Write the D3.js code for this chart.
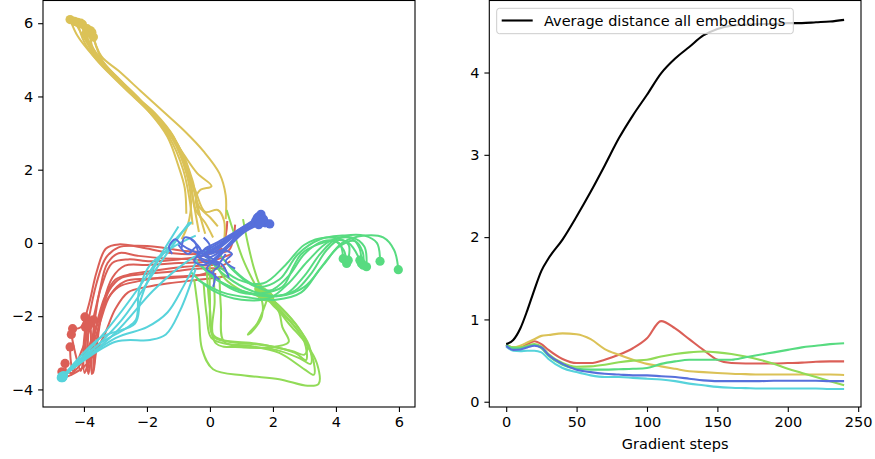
<!DOCTYPE html>
<meta charset="utf-8">
<head>
	<title>Embedding trajectories</title>
</head>

<style>
	body { margin: 0; background: #fff; }
	text { font-family: "DejaVu Sans", sans-serif; }
</style>

<body>
	<svg width="875" height="459"></svg>

	<script src="https://cdnjs.cloudflare.com/ajax/libs/d3/7.8.5/d3.min.js"></script>
	<script>

		// ---- left panel: 2d trajectories of embeddings, one array per cluster (start -> end)
		var redPaths = [
			[[0.55,0.6],[0.4,0.0],[-0.3,-0.28],[-1.2,-0.28],[-2.2,-0.12],[-2.9,-0.04],[-3.3,-0.15],[-3.6,-0.8],[-3.85,-1.7],[-4.1,-2.3],[-4.36,-2.34]],
			[[0.3,-0.55],[-0.5,-0.45],[-1.5,-0.42],[-2.3,-0.35],[-2.9,-0.28],[-3.25,-0.55],[-3.5,-1.3],[-3.7,-2.4],[-3.8,-3.3],[-3.86,-3.58],[-3.92,-3.2],[-3.95,-2.5],[-3.97,-2.02]],
			[[0.7,-0.3],[0.0,-0.5],[-1.0,-0.55],[-2.0,-0.6],[-2.7,-0.62],[-3.1,-0.95],[-3.4,-1.7],[-3.6,-2.7],[-3.7,-3.45],[-3.75,-3.58],[-3.78,-3.0],[-3.78,-2.4],[-3.81,-2.15]],
			[[0.5,-0.7],[-0.3,-0.7],[-1.2,-0.78],[-2.1,-0.85],[-2.8,-0.95],[-3.2,-1.3],[-3.45,-2.0],[-3.62,-3.0],[-3.7,-3.55],[-3.7,-3.0],[-3.68,-2.5],[-3.7,-2.1]],
			[[0.2,-0.85],[-0.7,-0.9],[-1.6,-0.95],[-2.3,-1.05],[-2.9,-1.2],[-3.3,-1.6],[-3.6,-2.3],[-3.85,-3.2],[-3.98,-3.55],[-4.02,-3.0],[-3.98,-2.5],[-3.95,-2.3]],
			[[0.4,-0.15],[-0.2,-0.35],[-1.0,-0.45],[-1.9,-0.5],[-2.6,-0.45],[-3.1,-0.55],[-3.45,-1.2],[-3.75,-2.2],[-4.1,-3.0],[-4.35,-3.5],[-4.42,-3.2],[-4.44,-2.84]],
			[[0.1,-0.6],[-0.8,-0.65],[-1.7,-0.75],[-2.5,-0.85],[-3.0,-1.0],[-3.35,-1.5],[-3.7,-2.5],[-4.1,-3.3],[-4.4,-3.55],[-4.55,-3.5],[-4.6,-3.29]],
			[[0.55,-0.9],[-0.3,-1.0],[-1.3,-1.1],[-2.0,-1.2],[-2.6,-1.35],[-3.0,-1.8],[-3.4,-2.6],[-3.9,-3.3],[-4.4,-3.6],[-4.6,-3.65],[-4.7,-3.52]],
			[[0.8,0.5],[0.6,-0.2],[0.0,-0.25],[-0.8,-0.22],[-1.6,-0.12],[-2.3,-0.08],[-2.9,-0.12],[-3.3,-0.4],[-3.6,-1.1],[-3.85,-2.1],[-4.0,-3.0],[-4.1,-3.5],[-4.25,-3.1],[-4.4,-2.5]],
			[[0.65,-0.5],[-0.2,-0.85],[-1.1,-0.95],[-2.0,-0.98],[-2.7,-1.05],[-3.15,-1.4],[-3.5,-2.2],[-3.8,-3.1],[-3.9,-3.5],[-3.88,-2.8],[-3.85,-2.25]]
		];

		var yellowPaths = [
			[[-0.75,0.8],[-0.8,1.5],[-1.0,2.1],[-1.35,2.9],[-1.95,3.6],[-2.6,4.15],[-3.2,4.65],[-3.75,5.15],[-4.2,5.65],[-4.44,6.1]],
			[[-0.55,0.5],[-0.65,1.2],[-0.85,2.0],[-1.3,2.9],[-1.9,3.55],[-2.5,4.05],[-3.1,4.55],[-3.6,5.0],[-4.0,5.5],[-4.2,6.02]],
			[[-0.35,0.3],[-0.5,1.0],[-0.7,1.9],[-1.25,3.0],[-1.85,3.6],[-2.45,4.05],[-3.0,4.5],[-3.5,4.95],[-3.9,5.5],[-4.05,5.97]],
			[[0.1,0.15],[-0.15,0.55],[-0.45,0.9],[-0.65,1.8],[-1.15,2.9],[-1.75,3.55],[-2.35,4.0],[-2.95,4.5],[-3.45,4.95],[-3.75,5.4],[-3.8,5.8]],
			[[0.5,0.65],[0.5,1.3],[0.3,1.9],[-0.2,2.5],[-0.8,3.05],[-1.5,3.6],[-2.2,4.15],[-2.9,4.7],[-3.45,5.1],[-3.75,5.75]],
			[[-0.3,0.7],[-0.45,1.2],[-0.3,1.45],[0.05,1.55],[-0.4,1.9],[-0.9,2.5],[-1.5,3.2],[-2.2,3.9],[-2.85,4.45],[-3.4,4.95],[-3.7,5.62]],
			[[0.45,0.05],[0.45,0.6],[0.25,0.9],[-0.15,0.85],[-0.45,1.4],[-0.75,2.1],[-1.2,2.95],[-1.8,3.55],[-2.4,4.05],[-3.0,4.55],[-3.5,5.0],[-3.9,5.55],[-4.1,6.0]],
			[[-0.9,0.1],[-0.7,0.5],[-0.6,1.1],[-0.75,1.9],[-1.2,2.85],[-1.8,3.5],[-2.4,4.0],[-3.0,4.5],[-3.55,5.0],[-4.0,5.6],[-4.3,6.05]],
			[[-0.15,0.25],[-0.3,0.7],[-0.5,1.4],[-0.8,2.3],[-1.3,3.05],[-1.9,3.6],[-2.5,4.1],[-3.05,4.55],[-3.55,5.0],[-3.85,5.4],[-3.9,5.85]],
			[[0.25,0.45],[0.0,0.7],[-0.35,1.0],[-0.55,1.7],[-0.9,2.5],[-1.45,3.2],[-2.1,3.8],[-2.75,4.35],[-3.3,4.85],[-3.7,5.3],[-3.95,5.7]]
		];

		var greenPaths = [
			[[-0.5,-0.45],[0.2,-1.0],[0.95,-1.35],[1.6,-1.38],[2.3,-1.2],[2.65,-0.65],[2.9,-0.3],[3.5,-0.02],[3.95,0.05],[4.25,-0.2],[4.34,-0.56]],
			[[-0.3,-0.6],[0.4,-1.1],[1.2,-1.35],[2.0,-1.45],[2.7,-1.3],[3.2,-0.85],[3.7,-0.2],[4.1,0.08],[4.4,-0.05],[4.39,-0.47]],
			[[0.0,-0.9],[0.8,-1.25],[1.7,-1.45],[2.4,-1.4],[3.0,-0.9],[3.5,-0.3],[4.0,0.1],[4.5,0.12],[4.75,-0.15],[4.81,-0.56]],
			[[-0.6,-0.8],[0.1,-1.3],[1.0,-1.55],[1.9,-1.5],[2.5,-1.1],[3.1,-0.5],[3.8,0.05],[4.5,0.15],[4.9,-0.1],[4.97,-0.65]],
			[[0.3,-0.3],[0.8,-0.8],[1.5,-1.2],[2.2,-1.0],[2.8,-0.3],[3.5,0.1],[4.2,0.2],[4.9,0.2],[5.3,0.0],[5.4,-0.5]],
			[[-0.2,-0.3],[0.5,-0.9],[1.3,-1.3],[2.2,-1.45],[3.0,-1.2],[3.6,-0.6],[4.2,0.0],[4.9,0.2],[5.5,0.15],[5.85,-0.2],[5.98,-0.73]],
			[[0.6,-0.6],[1.2,-1.05],[1.9,-1.3],[2.5,-0.9],[3.0,-0.3],[3.6,0.05],[4.1,0.0],[4.23,-0.43]],
			[[-0.4,-1.0],[0.4,-1.35],[1.3,-1.5],[2.1,-1.55],[2.9,-1.35],[3.5,-0.7],[4.1,-0.1],[4.6,0.05],[4.85,-0.25],[4.87,-0.61]],
			[[0.1,-0.5],[0.9,-1.0],[1.7,-1.1],[2.4,-0.6],[3.0,-0.05],[3.7,0.15],[4.4,0.0],[4.76,-0.47]]
		];

		var limePaths = [
			[[-0.5,-1.0],[-0.35,-2.0],[-0.25,-2.9],[0.1,-3.45],[1.1,-3.62],[2.2,-3.72],[3.1,-3.9],[3.45,-3.85],[3.4,-3.3],[3.05,-2.75],[2.5,-2.2],[2.0,-1.65],[1.6,-1.3]],
			[[0.1,-0.7],[0.15,-1.6],[0.1,-2.5],[0.4,-2.65],[1.5,-2.75],[2.6,-2.95],[3.0,-3.05],[3.1,-2.8],[2.8,-2.3],[2.3,-1.8],[1.7,-1.35]],
			[[-0.1,-0.8],[0.0,-1.8],[0.2,-2.75],[1.0,-2.85],[2.0,-2.9],[2.85,-3.15],[3.2,-3.3],[3.15,-2.8],[2.7,-2.2],[2.1,-1.65],[1.8,-1.45]],
			[[0.3,-0.9],[0.35,-1.8],[0.45,-2.7],[1.2,-2.8],[2.2,-3.0],[3.0,-3.45],[3.3,-3.6],[3.25,-3.1],[2.8,-2.4],[2.2,-1.8],[1.7,-1.4]],
			[[0.53,0.9],[0.75,0.3],[1.05,-0.45],[1.35,-1.0],[1.6,-1.38]],
			[[1.05,0.65],[1.2,0.0],[1.4,-0.7],[1.6,-1.2],[1.75,-1.47]],
			[[0.2,-0.6],[0.5,-1.0],[1.0,-1.3],[1.6,-1.5],[1.65,-2.0],[1.3,-2.45],[1.2,-2.5],[1.5,-2.2],[1.75,-1.7],[1.85,-1.45]],
			[[-0.2,-1.1],[-0.1,-2.0],[0.05,-2.6],[0.8,-2.8],[1.9,-2.85],[2.5,-2.7],[2.3,-2.3],[2.2,-1.9],[1.9,-1.5]],
			[[0.0,-0.4],[0.0,-1.5],[0.1,-2.55],[0.6,-2.7],[1.8,-2.8],[2.7,-3.0],[3.05,-3.2],[3.0,-2.7],[2.6,-2.2],[2.0,-1.7],[1.55,-1.25]]
		];

		var cyanPaths = [
			[[-1.0,0.45],[-2.2,-1.15],[-3.3,-2.4],[-4.66,-3.65]],
			[[-0.65,0.57],[-1.7,-0.7],[-2.8,-2.1],[-4.68,-3.68]],
			[[-0.45,0.2],[-1.15,-0.1],[-1.9,-0.6],[-2.25,-1.3],[-2.35,-2.1],[-2.7,-2.35],[-3.5,-2.75],[-4.7,-3.65]],
			[[-0.4,-0.45],[-0.85,-1.2],[-1.35,-1.9],[-2.0,-2.3],[-3.0,-2.6],[-4.7,-3.66]],
			[[-0.45,-0.7],[-0.95,-1.85],[-1.4,-2.5],[-1.9,-2.65],[-3.0,-2.7],[-4.72,-3.68]],
			[[0.1,-0.1],[-0.8,-0.55],[-1.8,-1.3],[-3.0,-2.45],[-4.65,-3.62]],
			[[-0.58,0.57],[-1.69,-0.55],[-2.2,-1.55],[-2.38,-2.2],[-3.5,-2.6],[-4.68,-3.66]]
		];

		var bluePaths = [
			[[-1.2,-0.3],[-1.3,-0.1],[-1.1,0.1],[-0.9,-0.05],[-0.6,-0.2],[-0.2,-0.3],[0.3,-0.1],[0.9,0.3],[1.55,0.72]],
			[[0.3,-1.0],[0.1,-0.8],[0.3,-0.6],[0.0,-0.5],[-0.3,-0.4],[0.2,-0.2],[0.8,0.2],[1.6,0.62]],
			[[-0.6,0.1],[-0.3,-0.2],[-0.5,-0.5],[-0.2,-0.6],[0.2,-0.4],[0.7,0.0],[1.2,0.4],[1.75,0.55]],
			[[0.8,-0.7],[0.5,-0.5],[0.7,-0.3],[0.4,-0.2],[0.0,-0.3],[0.4,0.0],[1.0,0.35],[1.9,0.52]],
			[[-0.9,-0.15],[-0.8,0.15],[-0.5,0.05],[-0.3,-0.35],[0.0,-0.15],[0.5,0.1],[1.0,0.4],[1.45,0.6]],
			[[0.1,-1.2],[0.15,-0.9],[-0.1,-0.7],[0.2,-0.45],[0.6,-0.1],[1.1,0.3],[1.55,0.5]],
			[[-0.2,0.15],[0.0,-0.1],[-0.4,-0.3],[-0.1,-0.55],[0.3,-0.3],[0.8,0.15],[1.3,0.55],[1.62,0.78]],
			[[0.6,-0.95],[0.4,-0.6],[0.1,-0.45],[-0.2,-0.2],[0.2,0.0],[0.7,0.25],[1.5,0.68]],
			[[-1.0,-0.05],[-0.7,-0.3],[-0.4,-0.1],[-0.1,-0.4],[0.3,-0.25],[0.9,0.2],[1.7,0.65]],
			[[0.5,-0.3],[0.2,-0.6],[-0.1,-0.3],[0.2,-0.1],[0.6,0.1],[1.1,0.45],[1.6,0.55]]
		];

		// ---- right panel: distances over gradient steps
		var steps = [0,5,10,15,20,25,30,40,50,60,70,80,90,100,110,120,130,140,150,160,170,180,190,200,210,220,230,240];
		var avgAll = [0.70,0.75,0.89,1.11,1.36,1.59,1.74,1.97,2.25,2.55,2.87,3.20,3.48,3.73,3.99,4.17,4.31,4.45,4.53,4.57,4.58,4.59,4.59,4.60,4.60,4.61,4.62,4.64];
		var distRed    = [0.69,0.66,0.66,0.70,0.735,0.70,0.63,0.52,0.47,0.47,0.51,0.57,0.65,0.77,0.98,0.89,0.76,0.63,0.51,0.47,0.465,0.465,0.465,0.47,0.475,0.485,0.49,0.49];
		var distYellow = [0.69,0.66,0.68,0.72,0.76,0.80,0.81,0.83,0.82,0.76,0.64,0.57,0.51,0.46,0.43,0.40,0.37,0.36,0.35,0.34,0.335,0.33,0.33,0.33,0.33,0.33,0.33,0.325];
		var distLime   = [0.69,0.66,0.66,0.68,0.70,0.67,0.58,0.47,0.425,0.43,0.45,0.48,0.50,0.51,0.55,0.58,0.60,0.61,0.60,0.58,0.55,0.51,0.46,0.40,0.35,0.30,0.25,0.20];
		var distGreen  = [0.69,0.65,0.65,0.67,0.69,0.65,0.56,0.45,0.40,0.39,0.39,0.395,0.40,0.41,0.46,0.49,0.51,0.51,0.51,0.51,0.54,0.57,0.60,0.63,0.66,0.68,0.70,0.71];
		var distBlue   = [0.68,0.63,0.635,0.66,0.68,0.66,0.57,0.46,0.39,0.36,0.34,0.33,0.32,0.32,0.31,0.30,0.28,0.26,0.25,0.25,0.25,0.25,0.255,0.255,0.255,0.255,0.25,0.25];
		var distCyan   = [0.67,0.62,0.615,0.62,0.62,0.60,0.52,0.41,0.36,0.32,0.30,0.30,0.29,0.28,0.27,0.25,0.22,0.20,0.18,0.17,0.165,0.16,0.16,0.16,0.16,0.16,0.155,0.155];

		var xTicksLeft = [-4,-2,0,2,4,6];
		var yTicksLeft = [-4,-2,0,2,4,6];
		var xTicksRight = [0,50,100,150,200,250];
		var yTicksRight = [0,1,2,3,4];
		var legendLabel = "Average distance all embeddings";
		var xLabelRight = "Gradient steps";

		var clusters = [
			{paths: redPaths, dist: distRed, color: "#db5f57"},
			{paths: yellowPaths, dist: distYellow, color: "#dbc257"},
			{paths: limePaths, dist: distLime, color: "#91db57"},
			{paths: greenPaths, dist: distGreen, color: "#57db80"},
			{paths: cyanPaths, dist: distCyan, color: "#57d3db"},
			{paths: bluePaths, dist: distBlue, color: "#5770db"}
		];

		var svg = d3.select("svg");
		var fs = "14.5px";
		var fmt = d3.format("d");

		function styleAxis(g) {
			g.select(".domain").remove();
			g.selectAll(".tick line").attr("stroke", "#000").attr("stroke-width", 1.1);
			g.selectAll(".tick text").attr("fill", "#000")
				.style("font-family", '"DejaVu Sans", sans-serif').style("font-size", fs);
		}

		// ---------------- left panel
		var L = {left: 43, right: 415, top: 0.5, bottom: 407};
		var xL = d3.scaleLinear().domain([-5.3, 6.51]).range([L.left, L.right]);
		var yL = d3.scaleLinear().domain([-4.48, 6.62]).range([L.bottom, L.top]);

		var gl = svg.append("g");
		var line2d = d3.line()
			.x(function(d) { return xL(d[0]); })
			.y(function(d) { return yL(d[1]); })
			.curve(d3.curveCatmullRom.alpha(0.5));

		clusters.forEach(function(c) {
			gl.append("g").selectAll("path")
				.data(c.paths)
				.enter().append("path")
				.attr("d", line2d)
				.attr("fill", "none")
				.attr("stroke", c.color)
				.attr("stroke-width", 2)
				.attr("stroke-linejoin", "round");
			gl.append("g").selectAll("circle")
				.data(c.paths)
				.enter().append("circle")
				.attr("cx", function(p) { return xL(p[p.length - 1][0]); })
				.attr("cy", function(p) { return yL(p[p.length - 1][1]); })
				.attr("r", 4.6)
				.attr("fill", c.color);
		});

		gl.append("rect")
			.attr("x", L.left).attr("y", L.top)
			.attr("width", L.right - L.left).attr("height", L.bottom - L.top)
			.attr("fill", "none").attr("stroke", "#000").attr("stroke-width", 1.1);

		gl.append("g")
			.attr("transform", "translate(0," + L.bottom + ")")
			.call(d3.axisBottom(xL).tickValues(xTicksLeft).tickFormat(fmt).tickSize(4.9).tickPadding(4.9))
			.call(styleAxis);
		gl.append("g")
			.attr("transform", "translate(" + L.left + ",0)")
			.call(d3.axisLeft(yL).tickValues(yTicksLeft).tickFormat(fmt).tickSize(4.9).tickPadding(4.9))
			.call(styleAxis);

		// ---------------- right panel
		var R = {left: 489.3, right: 861, top: 0.5, bottom: 407};
		var xR = d3.scaleLinear().domain([-12, 252]).range([R.left, R.right]);
		var yR = d3.scaleLinear().domain([-0.064, 4.875]).range([R.bottom, R.top]);

		var gr = svg.append("g");
		function seriesLine(vals) {
			return d3.line()
				.x(function(d, i) { return xR(steps[i]); })
				.y(function(d) { return yR(d); })
				.curve(d3.curveMonotoneX)(vals);
		}

		clusters.forEach(function(c) {
			gr.append("path")
				.attr("d", seriesLine(c.dist))
				.attr("fill", "none")
				.attr("stroke", c.color)
				.attr("stroke-width", 2.1);
		});
		gr.append("path")
			.attr("d", seriesLine(avgAll))
			.attr("fill", "none")
			.attr("stroke", "#000")
			.attr("stroke-width", 2.1);

		gr.append("rect")
			.attr("x", R.left).attr("y", R.top)
			.attr("width", R.right - R.left).attr("height", R.bottom - R.top)
			.attr("fill", "none").attr("stroke", "#000").attr("stroke-width", 1.1);

		gr.append("g")
			.attr("transform", "translate(0," + R.bottom + ")")
			.call(d3.axisBottom(xR).tickValues(xTicksRight).tickFormat(fmt).tickSize(4.9).tickPadding(4.9))
			.call(styleAxis);
		gr.append("g")
			.attr("transform", "translate(" + R.left + ",0)")
			.call(d3.axisLeft(yR).tickValues(yTicksRight).tickFormat(fmt).tickSize(4.9).tickPadding(4.9))
			.call(styleAxis);

		gr.append("text")
			.attr("x", (R.left + R.right) / 2)
			.attr("y", 448.5)
			.attr("text-anchor", "middle")
			.style("font-size", fs)
			.text(xLabelRight);

		// legend
		var lg = gr.append("g");
		lg.append("rect")
			.attr("x", 496.7).attr("y", 8.3)
			.attr("width", 296.6).attr("height", 25.4)
			.attr("rx", 2.8)
			.attr("fill", "#fff").attr("fill-opacity", 0.8)
			.attr("stroke", "#ccc").attr("stroke-width", 1);
		lg.append("line")
			.attr("x1", 501.7).attr("x2", 532.7)
			.attr("y1", 20.5).attr("y2", 20.5)
			.attr("stroke", "#000").attr("stroke-width", 2.1);
		lg.append("text")
			.attr("x", 544).attr("y", 25.5)
			.style("font-size", fs)
			.text(legendLabel);

	</script>
</body>
</html>
